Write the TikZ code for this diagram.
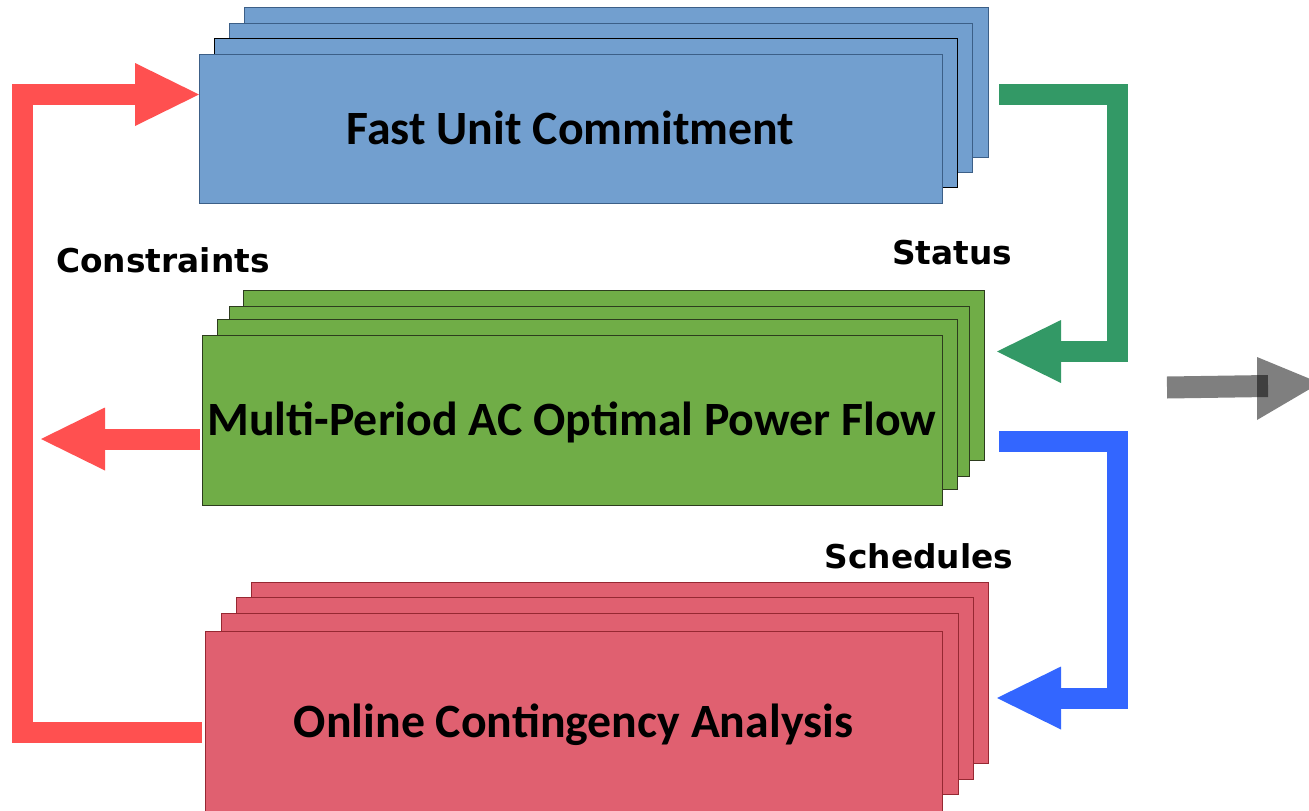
\documentclass[tikz,border=0pt]{standalone}
\usepackage{fontspec}
\setmainfont{Carlito}
\newfontfamily\labelfont{DejaVu Sans}
\usetikzlibrary{arrows.meta}
\definecolor{bluefill}{RGB}{114,159,207}
\definecolor{blueline}{RGB}{60,95,135}
\definecolor{greenfill}{RGB}{112,173,71}
\definecolor{greenline}{RGB}{45,60,30}
\definecolor{redfill}{RGB}{224,96,112}
\definecolor{redline}{RGB}{150,40,50}
\definecolor{redarrow}{RGB}{255,80,80}
\definecolor{greenarrow}{RGB}{51,153,102}
\definecolor{bluearrow}{RGB}{51,102,255}
\tikzset{
  layer/.style={line width=1pt},
  box/.style={rectangle, inner sep=0pt, line width=1pt, font=\bfseries\fontsize{47.8}{50}\selectfont,
    text height=31pt, text depth=0pt},
  lbl/.style={font=\labelfont\bfseries\fontsize{32.8}{34}\selectfont, inner sep=0pt},
  flow/.style={line width=21pt, line cap=butt, line join=miter,
    -{Triangle[length=64pt,width=63pt,line width=0pt]}},
}
\begin{document}
\begin{tikzpicture}[x=1pt,y=-1pt]
\useasboundingbox (0,0) rectangle (1309,811);
\clip (0,0) rectangle (1309,811);
% blue stack
\filldraw[layer, fill=bluefill, draw=blueline] (244,7) rectangle (988,157);
\filldraw[layer, fill=bluefill, draw=blueline] (229,23) rectangle (972,172);
\filldraw[layer, fill=bluefill, draw=black] (214,38) rectangle (957,187);
\node[box, fill=bluefill, draw=blueline, minimum width=743pt, minimum height=149pt] (fuc) at (570.5,128.5) {Fast Unit Commitment};
% green stack
\filldraw[layer, fill=greenfill, draw=greenline] (243,290) rectangle (984,460);
\filldraw[layer, fill=greenfill, draw=greenline] (229,306) rectangle (969,476);
\filldraw[layer, fill=greenfill, draw=greenline] (217,319) rectangle (957,489);
\node[box, fill=greenfill, draw=greenline, minimum width=740pt, minimum height=170pt] (mpf) at (572,420) {Multi-Period AC Optimal Power Flow};
% red stack
\filldraw[layer, fill=redfill, draw=redline] (251,582) rectangle (988,763);
\filldraw[layer, fill=redfill, draw=redline] (236,597) rectangle (973,779);
\filldraw[layer, fill=redfill, draw=redline] (221,613) rectangle (958,794);
\node[box, fill=redfill, draw=redline, minimum width=737pt, minimum height=182pt] (oca) at (573.5,722) {Online Contingency Analysis};
% labels
\node[lbl] (constraints) at (163,260) {Constraints};
\node[lbl] (status) at (952,253) {Status};
\node[lbl] (schedules) at (919,556) {Schedules};
% red connectors
\coordinate (r1) at (202,732.5);
\coordinate (r2) at (22.5,732.5);
\coordinate (r3) at (22.5,94.5);
\coordinate (r4) at (199,94.5);
\draw[flow, redarrow] (r1) -- (r2) -- (r3) -- (r4);
\coordinate (r5) at (200,439);
\coordinate (r6) at (41,439);
\draw[flow, redarrow] (r5) -- (r6);
% green connector
\coordinate (g1) at (999,94.5);
\coordinate (g2) at (1117.5,94.5);
\coordinate (g3) at (1117.5,351.5);
\coordinate (g4) at (997,351.5);
\draw[flow, greenarrow] (g1) -- (g2) -- (g3) -- (g4);
% blue connector
\coordinate (b1) at (999,441);
\coordinate (b2) at (1117.5,441);
\coordinate (b3) at (1117.5,698);
\coordinate (b4) at (997,698);
\draw[flow, bluearrow] (b1) -- (b2) -- (b3) -- (b4);
% gray output arrow
\coordinate (o1) at (1167,387.5);
\coordinate (o2) at (1268,386);
\coordinate (o3) at (1257,357);
\coordinate (o4) at (1257,420);
\coordinate (o5) at (1320,383);
\draw[line width=22pt, black, opacity=0.5] (o1) -- (o2);
\fill[black, opacity=0.5] (o3) -- (o5) -- (o4) -- cycle;
\end{tikzpicture}
\end{document}
